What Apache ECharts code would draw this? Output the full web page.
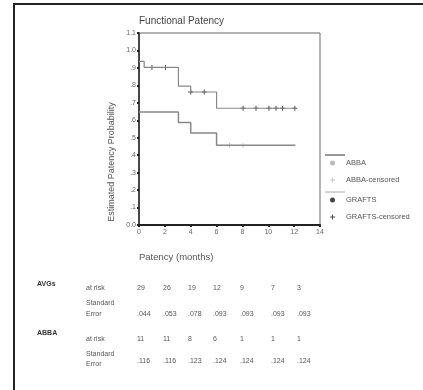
<!DOCTYPE html>
<html>
<head>
<meta charset="utf-8">
<script src="https://cdn.jsdelivr.net/npm/echarts@6/dist/echarts.min.js"></script>
<style>
  html, body { margin: 0; padding: 0; background: #fff; }
  #main { width: 423px; height: 390px; }
</style>
</head>
<body>
<div id="main"></div>
<script>
// Kaplan-Meier step curves (months, probability)
const abbaTime = [0, 3.05, 4, 6, 12.1];
const abbaSurv = [0.647, 0.587, 0.527, 0.457, 0.457];
const abbaCensTime = [7.0, 8.05];
const abbaCensSurv = [0.457, 0.457];

const graftTime = [0, 0.4, 3.05, 4, 6, 12.1];
const graftSurv = [0.937, 0.903, 0.796, 0.762, 0.669, 0.669];
const graftCensTime = [1.0, 2.05, 4.0, 5.05, 8.05, 9.05, 10.05, 10.6, 11.1, 12.05];
const graftCensSurv = [0.903, 0.903, 0.762, 0.762, 0.669, 0.669, 0.669, 0.669, 0.669, 0.669];

// table below the chart
const avgAtRisk = ["29", "26", "19", "12", "9", "7", "3"];
const avgStdErr = [".044", ".053", ".078", ".093", ".093", ".093", ".093"];
const abbaAtRisk = ["11", "11", "8", "6", "1", "1", "1"];
const abbaStdErr = [".116", ".116", ".123", ".124", ".124", ".124", ".124"];

const yTickFmt = (v) => (v >= 1 || v === 0 ? v.toFixed(1) : v.toFixed(1).replace("0.", "."));

const plus = "path://M2,0H3V2H5V3H3V5H2V3H0V2H2Z";
const font = "Liberation Sans, Arial, sans-serif";

const zip = (a, b) => a.map((x, i) => [x, b[i]]);

// table layout
const colX = [137, 163, 188, 213, 240, 271, 297];
const txt = (text, x, y, opts) => ({
   type: "text",
   x: x,
   y: y,
   style: Object.assign(
      { text: text, font: "7px " + font, fill: "#555", align: "left", verticalAlign: "middle" },
      opts || {}
   ),
});
const rowOf = (vals, y) => vals.map((v, i) => txt(v, colX[i], y));

const graphics = [
   // outer frame (top + left)
   { type: "line", shape: { x1: 13, y1: 4, x2: 423, y2: 4 }, style: { stroke: "#222", lineWidth: 2 } },
   { type: "line", shape: { x1: 14, y1: 4, x2: 14, y2: 390 }, style: { stroke: "#222", lineWidth: 2 } },
   // legend key lines
   { type: "line", shape: { x1: 325, y1: 155, x2: 345, y2: 155 }, style: { stroke: "#333", lineWidth: 1 } },
   { type: "line", shape: { x1: 325, y1: 192, x2: 345, y2: 192 }, style: { stroke: "#aaa", lineWidth: 1 } },
   // axis titles
   {
      type: "text",
      x: 112,
      y: 162,
      rotation: Math.PI / 2,
      style: { text: "Estimated Patency Probability", font: "9px " + font, fill: "#555", align: "center", verticalAlign: "middle" },
   },
   txt("Patency (months)", 139, 257, { font: "9.5px " + font }),
   // table
   txt("AVGs", 37, 284, { font: "bold 7px " + font, fill: "#333" }),
   txt("at risk", 86, 288),
   ...rowOf(avgAtRisk, 288),
   txt("Standard", 86, 303),
   txt("Error", 86, 314),
   ...rowOf(avgStdErr, 314),
   txt("ABBA", 37, 333, { font: "bold 7px " + font, fill: "#333" }),
   txt("at risk", 86, 339),
   ...rowOf(abbaAtRisk, 339),
   txt("Standard", 86, 354),
   txt("Error", 86, 364),
   ...rowOf(abbaStdErr, 361),
];

const legendBase = {
   orient: "vertical",
   left: 330,
   padding: 0,
   itemGap: 9,
   itemWidth: 5,
   itemHeight: 5,
   textStyle: { fontFamily: font, fontSize: 7.5, color: "#555", padding: [0, 0, 0, 6] },
};

const chart = echarts.init(document.getElementById("main"));
chart.setOption({
   animation: false,
   backgroundColor: "#fff",
   title: {
      text: "Functional Patency",
      left: 134,
      top: 11,
      textStyle: { fontFamily: font, fontSize: 10, fontWeight: "normal", color: "#444" },
   },
   legend: [
      Object.assign({}, legendBase, {
         top: 159,
         data: [{ name: "ABBA", icon: "circle" }, { name: "ABBA-censored", icon: plus }],
      }),
      Object.assign({}, legendBase, {
         top: 196,
         data: [{ name: "GRAFTS", icon: "circle" }, { name: "GRAFTS-censored", icon: plus }],
      }),
   ],
   grid: {
      left: 139,
      right: 103,
      top: 33,
      bottom: 165,
      show: true,
      borderColor: "#666",
      borderWidth: 1,
   },
   xAxis: {
      type: "value",
      min: 0,
      max: 14,
      interval: 2,
      splitLine: { show: false },
      axisLine: { lineStyle: { color: "#222", width: 2 } },
      axisTick: { length: 2, lineStyle: { color: "#222", width: 2 } },
      axisLabel: { fontFamily: font, fontSize: 7, color: "#666", margin: 4 },
   },
   yAxis: {
      type: "value",
      min: 0,
      max: 1.1,
      interval: 0.1,
      splitLine: { show: false },
      axisLine: { show: true, lineStyle: { color: "#222", width: 1.5 } },
      axisTick: { show: true, length: 2, lineStyle: { color: "#222", width: 2 } },
      axisLabel: { fontFamily: font, fontSize: 7, color: "#666", margin: 3, formatter: yTickFmt },
   },
   series: [
      {
         name: "ABBA",
         type: "line",
         step: "end",
         symbol: "none",
         itemStyle: { color: "#bbb" },
         lineStyle: { color: "#888", width: 1.5 },
         data: zip(abbaTime, abbaSurv),
      },
      {
         name: "ABBA-censored",
         type: "scatter",
         symbol: plus,
         symbolSize: 5,
         itemStyle: { color: "#bbb" },
         data: zip(abbaCensTime, abbaCensSurv),
      },
      {
         name: "GRAFTS",
         type: "line",
         step: "end",
         symbol: "none",
         itemStyle: { color: "#444" },
         lineStyle: { color: "#888", width: 1.2 },
         data: zip(graftTime, graftSurv),
      },
      {
         name: "GRAFTS-censored",
         type: "scatter",
         symbol: plus,
         symbolSize: 5,
         itemStyle: { color: "#222" },
         data: zip(graftCensTime, graftCensSurv),
      },
   ],
   graphic: graphics,
});
</script>
</body>
</html>
